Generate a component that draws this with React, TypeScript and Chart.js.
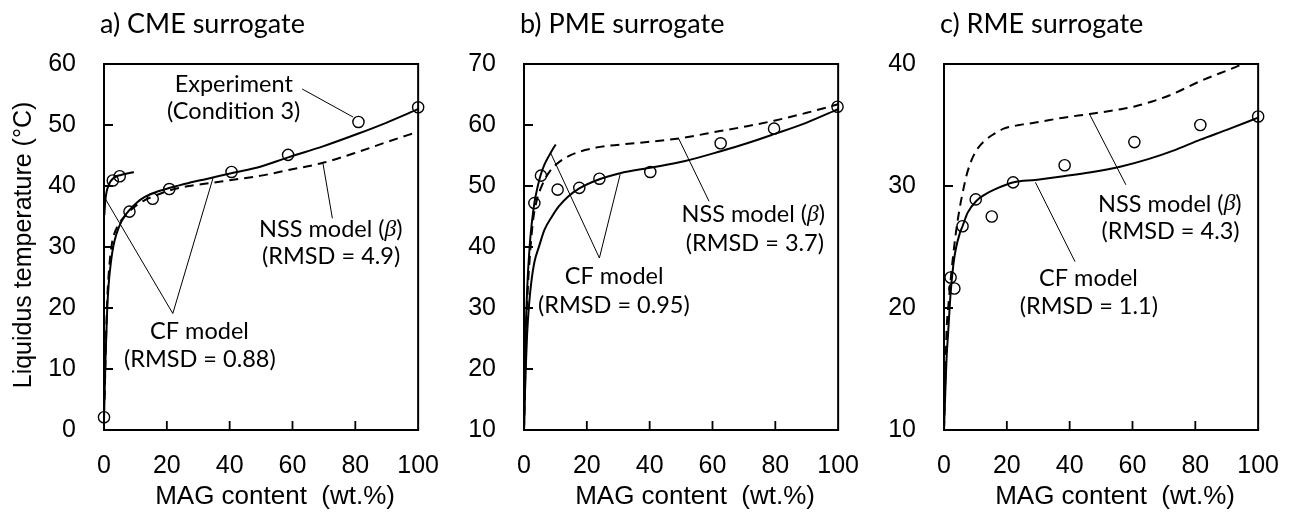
import React, { useEffect, useRef } from "react";
import { Chart, registerables } from "chart.js";
Chart.register(...registerables);

// ---------- Panel a) CME surrogate ----------
const A_EXP_X = [0, 2.8, 5.0, 8.1, 15.5, 20.8, 40.6, 58.6, 81, 100];
const A_EXP_Y = [2.1, 40.9, 41.6, 35.8, 37.9, 39.5, 42.3, 45.1, 50.5, 52.9];
const A_CF_X = [0, 0.2, 0.5, 1, 1.5, 2.2, 3, 4, 5.2, 6.5, 8, 10.5, 13, 16, 21, 27, 33, 40.5, 50, 58.6, 69.7, 81, 90, 100];
const A_CF_Y = [1.5, 6, 12, 19.5, 24, 27.5, 30.2, 32.2, 33.8, 35, 36, 37.3, 38.2, 38.9, 39.7, 40.5, 41.2, 42.1, 43.2, 44.7, 46.5, 48.6, 50.4, 52.6];
const A_CF2_X = [0.1, 0.4, 0.8, 1.3, 2, 2.8, 4, 5.4, 7, 8.9, 9.5];
const A_CF2_Y = [35.2, 37.5, 39, 39.9, 40.7, 41.2, 41.6, 41.8, 42.0, 42.2, 42.3];
const A_NSS_X = [0.2, 0.5, 1, 1.8, 2.5, 3.3, 4.5, 6, 8, 10.5, 13, 15.7, 21, 27, 34.2, 40.6, 50, 58.6, 69.7, 81, 90, 100];
const A_NSS_Y = [5, 12, 21, 27.5, 30.5, 32.2, 33.6, 34.7, 35.8, 36.9, 37.7, 38.3, 39.3, 40, 40.5, 41, 41.7, 42.6, 43.8, 45.6, 47.2, 48.9];
const A_LEADERS = [
  [63.1, 55.9, 79.3, 51.3],
  [0.3, 38, 21.9, 19.1],
  [21.9, 19.1, 34.7, 41.3],
  [69.7, 43.7, 72.7, 34.7],
];

// ---------- Panel b) PME surrogate ----------
const B_EXP_X = [3.3, 5.4, 10.7, 17.6, 24.0, 40.2, 62.6, 79.6, 99.8];
const B_EXP_Y = [47.2, 51.7, 49.4, 49.7, 51.2, 52.3, 57.0, 59.4, 63.0];
const B_CF_X = [0, 0.3, 0.7, 1, 1.6, 2.3, 3.3, 4.8, 6.5, 8.9, 11, 13.9, 17.6, 24, 30.6, 40.2, 51.3, 62.6, 71, 79.6, 90, 100];
const B_CF_Y = [10, 16, 22, 25.8, 30.5, 34.1, 37.5, 40.1, 42.8, 45, 46.6, 48.2, 49.6, 51.1, 52.1, 53.0, 54.1, 55.7, 57.0, 58.5, 60.4, 62.6];
const B_CF2_X = [0, 0.2, 0.5, 1, 1.8, 2.5, 3.3, 4.3, 5.3, 6.5, 7.9, 9, 10.1];
const B_CF2_Y = [10, 16, 25, 33, 40.1, 44, 47.2, 49.8, 51.8, 53.5, 54.9, 55.9, 56.8];
const B_NSS_X = [0, 0.3, 0.7, 1.2, 1.8, 2.8, 4, 5.9, 7.9, 10.4, 15, 23, 31, 39.2, 49.3, 62.4, 71, 79.6, 90, 100];
const B_NSS_Y = [10, 17, 26, 33, 38, 44, 47.5, 50.3, 52.2, 53.6, 55.1, 56.3, 56.8, 57.2, 57.8, 59.0, 59.8, 60.7, 62, 63.4];
const B_LEADERS = [
  [8.4, 55.5, 24, 38.2],
  [24, 38.2, 30.6, 51.9],
  [49.3, 57.7, 58.9, 47.5],
];

// ---------- Panel c) RME surrogate ----------
const C_EXP_X = [2.1, 3.3, 5.9, 10.1, 15.2, 22.0, 38.4, 60.6, 81.6, 100];
const C_EXP_Y = [22.5, 21.6, 26.7, 28.9, 27.5, 30.3, 31.7, 33.6, 35.0, 35.7];
const C_CF_X = [0, 0.4, 0.8, 1.3, 2.1, 3, 3.8, 5, 5.9, 7.5, 10.4, 13, 16, 22.2, 29.1, 38, 46.3, 56.4, 65, 73, 81.6, 90, 100];
const C_CF_Y = [10, 13, 15.8, 17.9, 21.2, 23.6, 24.9, 26.1, 26.7, 27.8, 28.8, 29.3, 29.7, 30.3, 30.5, 30.8, 31.1, 31.6, 32.2, 32.9, 33.8, 34.6, 35.6];
const C_NSS_X = [0, 0.4, 0.8, 1.5, 2.3, 3, 3.8, 4.8, 5.9, 7.2, 8.9, 10.8, 12.9, 15.5, 19, 24, 29.1, 38, 46.3, 56.4, 60.4, 71.5, 81.6, 93.7, 100];
const C_NSS_Y = [10, 14, 18, 20.5, 22.8, 24.5, 26.2, 27.9, 29.4, 30.9, 32.2, 33.1, 33.7, 34.2, 34.7, 35.0, 35.2, 35.6, 35.9, 36.3, 36.5, 37.4, 38.6, 39.85, 40.6];
const C_LEADERS = [
  [46.3, 35.9, 57.9, 30.1],
  [29.1, 30.3, 41.7, 23.8],
];

// ---------- Text ----------
const X_TICKS_STEP = 20;
const Y_TITLE = "Liquidus temperature (\u00B0C)";
const X_TITLE = "MAG content  (wt.%)";
const TITLES = ["a) CME surrogate", "b) PME surrogate", "c) RME surrogate"];

const FONT_TXT = '"Lato", "Noto Sans", sans-serif';
const FONT_NUM = '"Liberation Sans", Arial, sans-serif';

type Seg = { t: string; it?: boolean };
type Label = { x: number; y: number; segs: Seg[] };

const zip = (xs: number[], ys: number[]) => xs.map((x, i) => ({ x, y: ys[i] }));

const PANELS = [
  {
    title: TITLES[0], yMin: 0, yMax: 60, left: 0, showYTitle: true,
    exp: zip(A_EXP_X, A_EXP_Y), cf: zip(A_CF_X, A_CF_Y), cf2: zip(A_CF2_X, A_CF2_Y), nss: zip(A_NSS_X, A_NSS_Y), leaders: A_LEADERS,
    labels: [
      { x: 41.3, y: 56.6, segs: [{ t: "Experiment" }] },
      { x: 41.3, y: 52.2, segs: [{ t: "(Condition 3)" }] },
      { x: 72.2, y: 32.8, segs: [{ t: "NSS model (" }, { t: "\u03B2", it: true }, { t: ")" }] },
      { x: 72.3, y: 28.4, segs: [{ t: "(RMSD = 4.9)" }] },
      { x: 30.4, y: 16.1, segs: [{ t: "CF model" }] },
      { x: 30.5, y: 11.5, segs: [{ t: "(RMSD = 0.88)" }] },
    ] as Label[],
  },
  {
    title: TITLES[1], yMin: 10, yMax: 70, left: 420, showYTitle: false,
    exp: zip(B_EXP_X, B_EXP_Y), cf: zip(B_CF_X, B_CF_Y), cf2: zip(B_CF2_X, B_CF2_Y), nss: zip(B_NSS_X, B_NSS_Y), leaders: B_LEADERS,
    labels: [
      { x: 73, y: 45.3, segs: [{ t: "NSS model (" }, { t: "\u03B2", it: true }, { t: ")" }] },
      { x: 73.5, y: 40.6, segs: [{ t: "(RMSD = 3.7)" }] },
      { x: 28.7, y: 35.1, segs: [{ t: "CF model" }] },
      { x: 28.6, y: 30.5, segs: [{ t: "(RMSD = 0.95)" }] },
    ] as Label[],
  },
  {
    title: TITLES[2], yMin: 10, yMax: 40, left: 840, showYTitle: false,
    exp: zip(C_EXP_X, C_EXP_Y), cf: zip(C_CF_X, C_CF_Y), cf2: null as any, nss: zip(C_NSS_X, C_NSS_Y), leaders: C_LEADERS,
    labels: [
      { x: 71.9, y: 28.5, segs: [{ t: "NSS model (" }, { t: "\u03B2", it: true }, { t: ")" }] },
      { x: 72.1, y: 26.3, segs: [{ t: "(RMSD = 4.3)" }] },
      { x: 46, y: 22.4, segs: [{ t: "CF model" }] },
      { x: 46.1, y: 20.1, segs: [{ t: "(RMSD = 1.1)" }] },
    ] as Label[],
  },
];

const TXT_SIZE = 23.5;

function fontFor(s: Seg) {
  return s.it ? `italic ${TXT_SIZE}px "Liberation Serif", serif` : `${TXT_SIZE}px ${FONT_TXT}`;
}

function drawRich(ctx: CanvasRenderingContext2D, segs: Seg[], cx: number, cy: number) {
  let total = 0;
  const ws = segs.map((s) => {
    ctx.font = fontFor(s);
    const w = ctx.measureText(s.t).width;
    total += w;
    return w;
  });
  let x = cx - total / 2;
  ctx.textAlign = "left";
  ctx.textBaseline = "middle";
  segs.forEach((s, i) => {
    ctx.font = fontFor(s);
    ctx.fillText(s.t, x, cy);
    x += ws[i];
  });
}

function Panel({ p }: { p: (typeof PANELS)[number] }) {
  const ref = useRef<HTMLCanvasElement>(null);
  useEffect(() => {
    if (!ref.current) return;
    const datasets: any[] = [];
    datasets.push({
      data: p.exp, showLine: false, pointStyle: "circle", pointRadius: 5.6, borderColor: "#000",
      backgroundColor: "rgba(0,0,0,0)", pointBorderWidth: 1.4, clip: false,
    });
    datasets.push({
      data: p.cf, showLine: true, pointRadius: 0, borderColor: "#000", borderWidth: 2,
      cubicInterpolationMode: "monotone",
    });
    if (p.cf2) {
      datasets.push({
        data: p.cf2, showLine: true, pointRadius: 0, borderColor: "#000", borderWidth: 2,
        cubicInterpolationMode: "monotone",
      });
    }
    datasets.push({
      data: p.nss, showLine: true, pointRadius: 0, borderColor: "#000", borderWidth: 2,
      borderDash: [9, 6], cubicInterpolationMode: "monotone",
    });
    p.leaders.forEach((l) => {
      datasets.push({
        data: [{ x: l[0], y: l[1] }, { x: l[2], y: l[3] }], showLine: true, pointRadius: 0,
        borderColor: "#000", borderWidth: 1, tension: 0,
      });
    });

    const deco = {
      id: "deco",
      afterDraw(chart: any) {
        const ctx: CanvasRenderingContext2D = chart.ctx;
        const xs = chart.scales.x;
        const ys = chart.scales.y;
        const a = chart.chartArea;
        ctx.save();
        ctx.strokeStyle = "#000";
        ctx.fillStyle = "#000";
        // inner ticks
        ctx.lineWidth = 1.8;
        ctx.beginPath();
        xs.ticks.forEach((t: any) => {
          if (t.value <= xs.min || t.value >= xs.max) return;
          const px = xs.getPixelForValue(t.value);
          ctx.moveTo(px, a.bottom);
          ctx.lineTo(px, a.bottom - 9);
        });
        ys.ticks.forEach((t: any) => {
          if (t.value <= ys.min || t.value >= ys.max) return;
          const py = ys.getPixelForValue(t.value);
          ctx.moveTo(a.left, py);
          ctx.lineTo(a.left + 9, py);
        });
        ctx.stroke();
        // frame
        ctx.lineWidth = 2;
        ctx.strokeRect(a.left, a.top, a.right - a.left, a.bottom - a.top);
        // annotation labels
        p.labels.forEach((lb) => {
          drawRich(ctx, lb.segs, xs.getPixelForValue(lb.x), ys.getPixelForValue(lb.y));
        });
        // panel title
        ctx.font = `27px ${FONT_TXT}`;
        ctx.textAlign = "left";
        ctx.textBaseline = "middle";
        ctx.fillText(p.title, a.left - 4, 24);
        // x title
        ctx.font = `26px ${FONT_NUM}`;
        ctx.textAlign = "center";
        ctx.textBaseline = "middle";
        ctx.fillText(X_TITLE, (a.left + a.right) / 2 + 14, 497);
        // y title
        if (p.showYTitle) {
          ctx.font = `25px ${FONT_NUM}`;
          ctx.translate(24, 245);
          ctx.rotate(-Math.PI / 2);
          ctx.fillText(Y_TITLE, 0, 0);
        }
        ctx.restore();
      },
    };

    const chart = new Chart(ref.current, {
      type: "scatter",
      data: { datasets },
      options: {
        animation: false,
        responsive: false,
        maintainAspectRatio: false,
        layout: { padding: { top: 64, right: 26, left: 0, bottom: 0 } },
        plugins: { legend: { display: false }, tooltip: { enabled: false }, title: { display: false } },
        scales: {
          x: {
            type: "linear", min: 0, max: 100,
            ticks: { stepSize: X_TICKS_STEP, font: { family: FONT_NUM, size: 25 }, color: "#000", padding: 21, maxRotation: 0 },
            grid: { display: false, drawTicks: false },
            border: { display: false },
            afterFit: (s: any) => { s.height = 94; },
          },
          y: {
            type: "linear", min: p.yMin, max: p.yMax,
            ticks: { stepSize: 10, font: { family: FONT_NUM, size: 25 }, color: "#000", padding: 28 },
            grid: { display: false, drawTicks: false },
            border: { display: false },
            afterFit: (s: any) => { s.width = 104; },
          },
        },
      } as any,
      plugins: [deco],
    });
    return () => chart.destroy();
  }, []);
  return (
    <canvas
      ref={ref}
      width={460}
      height={524}
      style={{ position: "absolute", left: p.left, top: 0, width: 460, height: 524 }}
    />
  );
}

export default function App() {
  return (
    <div style={{ position: "absolute", left: 0, top: 0, width: 1312, height: 524, background: "#fff", overflow: "hidden" }}>
      {PANELS.map((p, i) => (
        <Panel key={i} p={p} />
      ))}
    </div>
  );
}
